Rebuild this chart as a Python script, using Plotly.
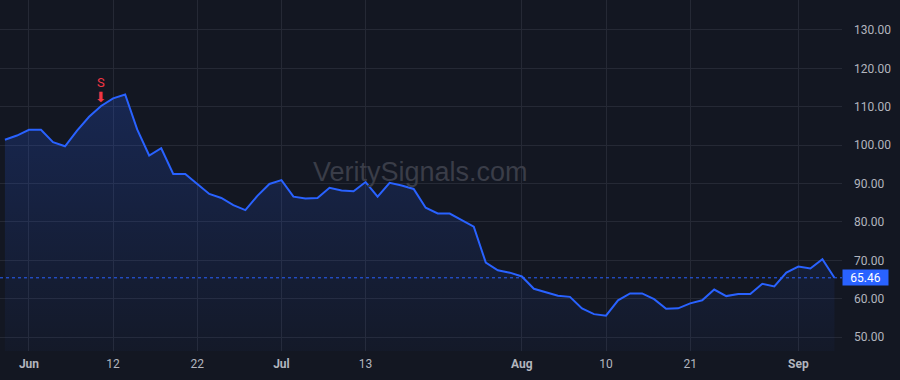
import plotly.graph_objects as go

# Trading dates (May 30 - Sep 7)
dates = [
    "2023-05-30", "2023-05-31",
    "2023-06-01", "2023-06-02", "2023-06-05", "2023-06-06", "2023-06-07", "2023-06-08", "2023-06-09",
    "2023-06-12", "2023-06-13", "2023-06-14", "2023-06-15", "2023-06-16", "2023-06-20", "2023-06-21",
    "2023-06-22", "2023-06-23", "2023-06-26", "2023-06-27", "2023-06-28", "2023-06-29", "2023-06-30",
    "2023-07-03", "2023-07-05", "2023-07-06", "2023-07-07", "2023-07-10", "2023-07-11", "2023-07-12",
    "2023-07-13", "2023-07-14", "2023-07-17", "2023-07-18", "2023-07-19", "2023-07-20", "2023-07-21",
    "2023-07-24", "2023-07-25", "2023-07-26", "2023-07-27", "2023-07-28", "2023-07-31",
    "2023-08-01", "2023-08-02", "2023-08-03", "2023-08-04", "2023-08-07", "2023-08-08", "2023-08-09",
    "2023-08-10", "2023-08-11", "2023-08-14", "2023-08-15", "2023-08-16", "2023-08-17", "2023-08-18",
    "2023-08-21", "2023-08-22", "2023-08-23", "2023-08-24", "2023-08-25", "2023-08-28", "2023-08-29",
    "2023-08-30", "2023-08-31",
    "2023-09-01", "2023-09-05", "2023-09-06", "2023-09-07",
]

prices = [
    101.4, 102.5, 104.0, 104.0, 100.8, 99.7, 103.8, 107.4, 110.2, 112.2,
    113.2, 104.1, 97.3, 99.2, 92.5, 92.5, 89.9, 87.3, 86.25, 84.4,
    83.1, 86.8, 89.9, 90.9, 86.6, 86.1, 86.25, 88.9, 88.2, 88.0,
    90.4, 86.6, 90.2, 89.5, 88.6, 83.7, 82.2, 82.2, 80.5, 78.8,
    69.4, 67.4, 66.8, 65.8, 62.6, 61.6, 60.8, 60.5, 57.5, 56.0,
    55.6, 59.6, 61.4, 61.4, 59.9, 57.4, 57.5, 58.8, 59.6, 62.4,
    60.7, 61.25, 61.25, 63.9, 63.2, 66.8, 68.4, 67.9, 70.3, 65.46,
]

tick_dates = ["2023-06-01", "2023-06-12", "2023-06-22", "2023-07-03", "2023-07-13",
              "2023-08-01", "2023-08-10", "2023-08-21", "2023-09-01"]
tick_labels = ["<b>Jun</b>", "12", "22", "<b>Jul</b>", "13", "<b>Aug</b>", "10", "21", "<b>Sep</b>"]

y_ticks = [50, 60, 70, 80, 90, 100, 110, 120, 130]

signal_date = "2023-06-09"
signal_text = "S"
last_price = prices[-1]

BG = "#131722"
GRID = "#252935"
LINE = "#2962FF"
TXT = "#b2b5be"
RED = "#f23645"

idx = list(range(len(dates)))
tick_idx = [dates.index(d) for d in tick_dates]
sig_i = dates.index(signal_date)

fig = go.Figure()
fig.add_trace(go.Scatter(
    x=idx, y=prices, mode="lines",
    line=dict(color=LINE, width=2),
    fill="tozeroy",
    fillgradient=dict(type="vertical",
                      colorscale=[[0, "rgba(41,98,255,0.03)"], [1, "rgba(41,98,255,0.22)"]],
                      start=46, stop=115),
    hoverinfo="skip", showlegend=False,
))

fig.add_shape(type="line", xref="paper", x0=0, x1=1, yref="y", y0=last_price, y1=last_price,
              line=dict(color=LINE, width=1, dash="dot"))

fig.add_annotation(xref="paper", x=1, xanchor="left", yref="y", y=last_price,
                   text=f"{last_price:.2f}", showarrow=False,
                   font=dict(family="Roboto", size=12, color="#ffffff"),
                   bgcolor=LINE, width=45, height=15, borderpad=0, xshift=0)

# signal arrow and letter
fig.add_annotation(x=sig_i, y=prices[sig_i], yshift=9, text="\u2b07",
                   showarrow=False,
                   font=dict(family="DejaVu Sans", size=14, color=RED))
fig.add_annotation(x=sig_i, y=prices[sig_i], yshift=23, text=signal_text,
                   showarrow=False,
                   font=dict(family="Roboto", size=13, color=RED))

fig.add_annotation(xref="paper", yref="paper", x=0.499, y=0.51,
                   text="VeritySignals.com", showarrow=False,
                   font=dict(family="Liberation Sans", size=27, color="#3a3d48"))

fig.update_layout(
    width=900, height=380,
    margin=dict(l=0, r=58, t=0, b=29),
    paper_bgcolor=BG, plot_bgcolor=BG,
    font=dict(family="Roboto", size=12, color=TXT),
    xaxis=dict(range=[-0.41, 69.63], tickvals=tick_idx, ticktext=tick_labels,
               showgrid=True, gridcolor=GRID, zeroline=False, showline=False,
               ticks="", ticklabelstandoff=4, tickfont=dict(size=12, color=TXT)),
    yaxis=dict(range=[46.4, 137.8], side="right", tickvals=y_ticks, tickformat=".2f",
               showgrid=True, gridcolor=GRID, zeroline=False, showline=False,
               ticks="", ticklabelstandoff=11, tickfont=dict(size=12, color=TXT)),
)

fig.write_html("out.html")
